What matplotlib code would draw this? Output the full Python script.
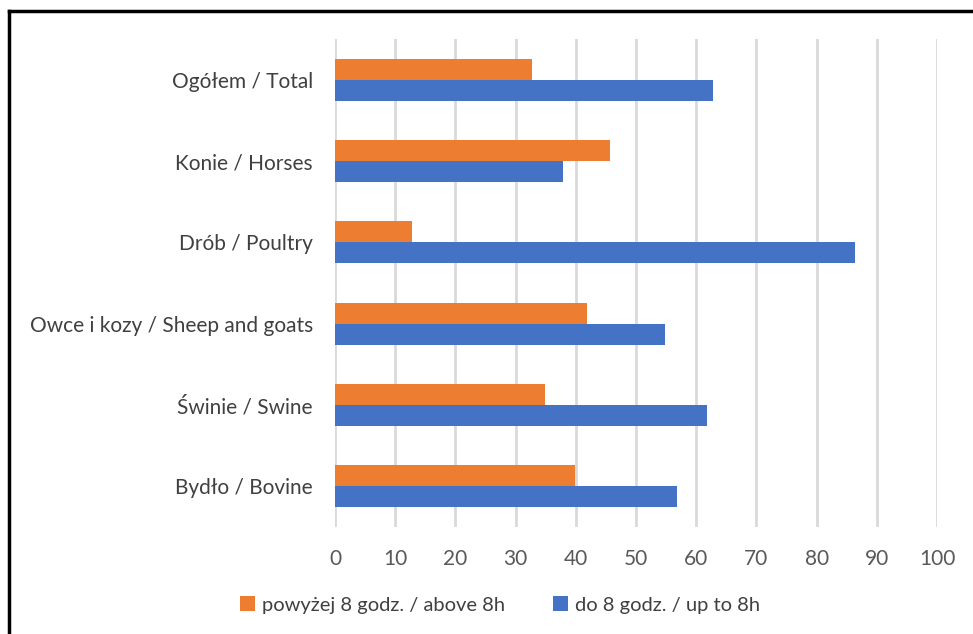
import matplotlib
matplotlib.use("Agg")
import matplotlib.pyplot as plt
import numpy as np
from matplotlib.lines import Line2D
from matplotlib.patches import Patch

categories = ["Ogółem / Total", "Konie / Horses", "Drób / Poultry",
              "Owce i kozy / Sheep and goats", "Świnie / Swine", "Bydło / Bovine"]
above_8h = [32.7, 45.7, 12.8, 41.9, 34.9, 39.9]
up_to_8h = [62.8, 37.9, 86.4, 54.8, 61.8, 56.8]
series_labels = ["powyżej 8 godz. / above 8h", "do 8 godz. / up to 8h"]
xticks = [0, 10, 20, 30, 40, 50, 60, 70, 80, 90, 100]

plt.rcParams['font.family'] = ['Lato', 'DejaVu Sans']

W, H = 973, 634
fig = plt.figure(figsize=(W / 100, H / 100), dpi=100)
ax = fig.add_axes([335 / W, 1 - 527 / H, (937 - 335) / W, (527 - 39) / H])

n = len(categories)
y = np.arange(n)[::-1].astype(float)
h = 0.26
orange = "#ED7D31"
blue = "#4472C4"
ax.barh(y + h / 2, above_8h, height=h, color=orange, zorder=3)
ax.barh(y - h / 2, up_to_8h, height=h, color=blue, zorder=3)

ax.set_xlim(0, 100)
ax.set_ylim(-0.5, n - 0.5)
ax.set_xticks(xticks)
ax.set_xticklabels([str(t) for t in xticks])
ax.set_yticks(y)
ax.set_yticklabels(categories)
for lbl in ax.get_yticklabels():
    lbl.set_va('center_baseline')
ax.grid(axis='x', color="#D9D9D9", linewidth=2, zorder=0)
ax.set_axisbelow(True)
for s in ax.spines.values():
    s.set_visible(False)
ax.tick_params(axis='both', length=0)
ax.tick_params(axis='x', pad=16, labelsize=15, labelcolor="#595959")
ax.tick_params(axis='y', pad=16, labelsize=15, labelcolor="#404040")

handles = [Patch(facecolor=orange), Patch(facecolor=blue)]
leg = fig.legend(handles, series_labels, loc='center', bbox_to_anchor=(500 / W, 1 - 605 / H),
                 ncol=2, frameon=False, fontsize=14.5, handlelength=0.75, handleheight=0.75,
                 handletextpad=0.35, columnspacing=2.4)
for t in leg.get_texts():
    t.set_color("#404040")

# outer frame (top and left edges)
fig.add_artist(Line2D([9 / W, 1.0], [1 - 11 / H, 1 - 11 / H], transform=fig.transFigure,
                      color="black", linewidth=2.5))
fig.add_artist(Line2D([9 / W, 9 / W], [0, 1 - 11 / H], transform=fig.transFigure,
                      color="black", linewidth=2.5))

fig.savefig("out.png", dpi=100, facecolor="white")
